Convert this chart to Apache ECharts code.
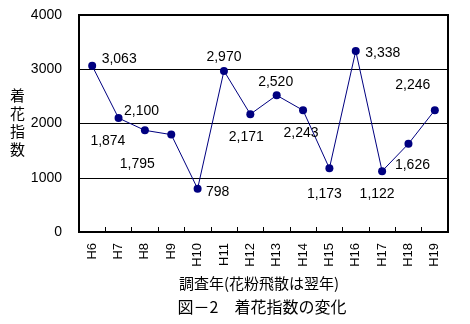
<!DOCTYPE html>
<html>
<head>
<meta charset="utf-8">
<script src="https://cdn.jsdelivr.net/npm/echarts@6/dist/echarts.min.js"></script>
<style>
html,body{margin:0;padding:0;background:#fff;}
#c{width:470px;height:324px;}
</style>
</head>
<body>
<div id="c"></div>
<script>
const categories = ['H6','H7','H8','H9','H10','H11','H12','H13','H14','H15','H16','H17','H18','H19'];
const values = [3063, 2100, 1874, 1795, 798, 2970, 2171, 2520, 2243, 1173, 3338, 1122, 1626, 2246];
const yTicks = [0, 1000, 2000, 3000, 4000];
const labelOffsets = [[27,-7],[23,-7],[-37,11],[-34,30],[20,3],[0,-14],[-4,23],[-1,-13],[-2,23],[-5,26],[27,2],[-5,23],[4,21],[-22,-25]];

const numFont = '"Liberation Sans", Arial, sans-serif';
const jpFont = '"Noto Sans CJK JP", sans-serif';

const chart = echarts.init(document.getElementById('c'), null, {renderer:'canvas'});
chart.setOption({
  animation: false,
  backgroundColor: '#fff',
  grid: {left: 79, right: 22, top: 15, bottom: 92, show: true, borderColor: '#000', borderWidth: 2},
  xAxis: {
    type: 'category',
    data: categories,
    boundaryGap: true,
    axisLine: {lineStyle: {color: '#000', width: 2}},
    axisTick: {show: true, inside: true, length: 5, lineStyle: {color: '#000', width: 1}},
    axisLabel: {rotate: 90, color: '#000', fontSize: 13, fontFamily: numFont, margin: 11},
    splitLine: {show: false}
  },
  yAxis: {
    type: 'value',
    min: yTicks[0],
    max: yTicks[yTicks.length-1],
    interval: 1000,
    axisLine: {show: true, lineStyle: {color: '#000', width: 2}},
    axisTick: {show: false},
    axisLabel: {color: '#000', fontSize: 14, fontFamily: numFont, margin: 17, formatter: v => String(v)},
    splitLine: {show: true, lineStyle: {color: '#000', width: 1}}
  },
  series: [{
    type: 'line',
    data: values.map((v, i) => ({
      value: v,
      label: {show: true, position: 'inside', offset: labelOffsets[i]}
    })),
    symbol: 'circle',
    symbolSize: 8,
    itemStyle: {color: '#000080'},
    lineStyle: {color: '#000080', width: 1},
    label: {
      color: '#000', fontSize: 14, fontFamily: numFont,
      formatter: p => p.value.toLocaleString('en-US')
    }
  }],
  graphic: [
    {type: 'text', left: 10, top: 86, style: {text: '着\n花\n指\n数', font: '15px ' + jpFont, fill: '#000', lineHeight: 18}},
    {type: 'text', x: 259, y: 283, style: {text: '調査年(花粉飛散は翌年)', font: '15px ' + jpFont, fill: '#000', textAlign: 'center', textVerticalAlign: 'middle'}},
    {type: 'text', x: 262, y: 307, style: {text: '図－2　着花指数の変化', font: '16px ' + jpFont, fill: '#000', textAlign: 'center', textVerticalAlign: 'middle'}}
  ]
});
</script>
</body>
</html>
